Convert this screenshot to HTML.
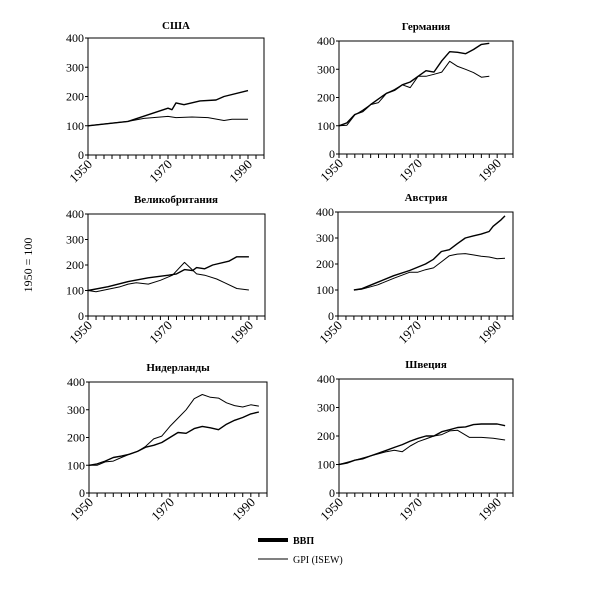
<!DOCTYPE html>
<html><head><meta charset="utf-8"><style>
body{margin:0;background:#fff}
svg{display:block}
text{font-family:"Liberation Serif",serif;font-size:12px;fill:#000}
.t{font-weight:bold;font-size:11px}
.yr{font-size:13px}
</style></head><body>
<svg id="s" width="600" height="598" viewBox="0 0 600 598" xmlns="http://www.w3.org/2000/svg">
<g id="p1" transform="translate(88,38)">
<text class="t" x="88" y="-9" text-anchor="middle">США</text>
<text x="-4" y="121" text-anchor="end">0</text><text x="-4" y="91.75" text-anchor="end">100</text><text x="-4" y="62.5" text-anchor="end">200</text><text x="-4" y="33.25" text-anchor="end">300</text><text x="-4" y="4" text-anchor="end">400</text>
<text class="yr" transform="translate(5,127) rotate(-45)" text-anchor="end">1950</text><text class="yr" transform="translate(85,127) rotate(-45)" text-anchor="end">1970</text><text class="yr" transform="translate(165,127) rotate(-45)" text-anchor="end">1990</text>
</g>
<g id="p2" transform="translate(339,41)">
<text class="t" x="87" y="-11" text-anchor="middle">Германия</text>
<text x="-4" y="117" text-anchor="end">0</text><text x="-4" y="88.75" text-anchor="end">100</text><text x="-4" y="60.5" text-anchor="end">200</text><text x="-4" y="32.25" text-anchor="end">300</text><text x="-4" y="4" text-anchor="end">400</text>
<text class="yr" transform="translate(5,123) rotate(-45)" text-anchor="end">1950</text><text class="yr" transform="translate(84,123) rotate(-45)" text-anchor="end">1970</text><text class="yr" transform="translate(163,123) rotate(-45)" text-anchor="end">1990</text>
</g>
<g id="p3" transform="translate(88,214)">
<text class="t" x="88" y="-11" text-anchor="middle">Великобритания</text>
<text x="-4" y="106" text-anchor="end">0</text><text x="-4" y="80.5" text-anchor="end">100</text><text x="-4" y="55" text-anchor="end">200</text><text x="-4" y="29.5" text-anchor="end">300</text><text x="-4" y="4" text-anchor="end">400</text>
<text class="yr" transform="translate(5,112) rotate(-45)" text-anchor="end">1950</text><text class="yr" transform="translate(85,112) rotate(-45)" text-anchor="end">1970</text><text class="yr" transform="translate(166,112) rotate(-45)" text-anchor="end">1990</text>
</g>
<g id="p4" transform="translate(338,212)">
<text class="t" x="88" y="-11" text-anchor="middle">Австрия</text>
<text x="-4" y="108" text-anchor="end">0</text><text x="-4" y="82" text-anchor="end">100</text><text x="-4" y="56" text-anchor="end">200</text><text x="-4" y="30" text-anchor="end">300</text><text x="-4" y="4" text-anchor="end">400</text>
<text class="yr" transform="translate(5,114) rotate(-45)" text-anchor="end">1950</text><text class="yr" transform="translate(84,114) rotate(-45)" text-anchor="end">1970</text><text class="yr" transform="translate(164,114) rotate(-45)" text-anchor="end">1990</text>
</g>
<g id="p5" transform="translate(89,382)">
<text class="t" x="89" y="-11" text-anchor="middle">Нидерланды</text>
<text x="-4" y="115" text-anchor="end">0</text><text x="-4" y="87.25" text-anchor="end">100</text><text x="-4" y="59.5" text-anchor="end">200</text><text x="-4" y="31.75" text-anchor="end">300</text><text x="-4" y="4" text-anchor="end">400</text>
<text class="yr" transform="translate(5,121) rotate(-45)" text-anchor="end">1950</text><text class="yr" transform="translate(86,121) rotate(-45)" text-anchor="end">1970</text><text class="yr" transform="translate(167,121) rotate(-45)" text-anchor="end">1990</text>
</g>
<g id="p6" transform="translate(339,379)">
<text class="t" x="87" y="-11" text-anchor="middle">Швеция</text>
<text x="-4" y="118" text-anchor="end">0</text><text x="-4" y="89.5" text-anchor="end">100</text><text x="-4" y="61" text-anchor="end">200</text><text x="-4" y="32.5" text-anchor="end">300</text><text x="-4" y="4" text-anchor="end">400</text>
<text class="yr" transform="translate(5,124) rotate(-45)" text-anchor="end">1950</text><text class="yr" transform="translate(84,124) rotate(-45)" text-anchor="end">1970</text><text class="yr" transform="translate(163,124) rotate(-45)" text-anchor="end">1990</text>
</g>
<text transform="translate(32,265) rotate(-90)" text-anchor="middle">1950 = 100</text>
<line x1="258" y1="540" x2="288" y2="540" stroke="#000" stroke-width="4"/>
<text class="t" x="293" y="544" style="font-size:10px">ВВП</text>
<line x1="258" y1="559" x2="288" y2="559" stroke="#000" stroke-width="1"/>
<text x="293" y="563" style="font-size:10px">GPI (ISEW)</text>
</svg>
<script>
var P={
p1:[176,117,[[50,100],[60,115],[70,160],[71,155],[72,178],[74,172],[78,185],[82,188],[84,200],[90,220]],
 [[50,100],[60,115],[64,125],[70,132],[72,128],[76,130],[80,128],[84,118],[86,122],[90,122]]],
p2:[174,113,[[50,100],[52,110],[54,140],[56,150],[58,175],[60,195],[62,215],[64,225],[66,245],[68,255],[70,275],[72,295],[74,290],[76,330],[78,362],[80,360],[82,355],[84,370],[86,388],[88,392]],
 [[50,100],[52,102],[54,138],[56,155],[58,175],[60,182],[62,215],[64,228],[66,245],[68,235],[70,275],[72,275],[74,282],[76,290],[78,328],[80,310],[82,300],[84,288],[86,272],[88,275]]],
p3:[177,102,[[50,100],[55,115],[60,135],[65,150],[70,160],[72,165],[74,182],[76,178],[77,190],[79,185],[81,200],[85,215],[87,232],[90,232]],
 [[50,100],[52,95],[55,105],[58,115],[60,125],[62,130],[65,125],[68,140],[71,160],[74,210],[77,165],[79,160],[82,145],[84,130],[87,108],[90,102]]],
p4:[175,104,[[54,100],[56,105],[60,130],[64,155],[68,175],[72,200],[74,218],[76,248],[78,255],[80,278],[82,300],[84,308],[86,315],[88,325],[89,345],[91,370],[92,385]],
 [[54,100],[56,103],[60,120],[64,145],[68,168],[70,168],[72,178],[74,185],[76,208],[78,232],[80,238],[82,240],[84,235],[86,230],[88,227],[90,220],[92,222]]],
p5:[178,111,[[50,100],[52,105],[54,115],[56,128],[58,133],[60,140],[62,150],[64,165],[66,172],[68,182],[70,200],[72,218],[74,215],[76,232],[78,240],[80,235],[82,228],[84,248],[86,262],[88,272],[90,285],[92,292]],
 [[50,100],[52,100],[54,112],[56,115],[58,128],[60,140],[62,150],[64,168],[66,195],[68,205],[70,240],[72,270],[74,300],[76,340],[78,355],[80,345],[82,342],[84,325],[86,315],[88,310],[90,318],[92,313]]],
p6:[174,114,[[50,100],[52,105],[54,115],[56,120],[58,130],[60,140],[62,150],[64,160],[66,170],[68,182],[70,192],[72,200],[74,200],[76,215],[78,222],[80,230],[82,232],[84,240],[86,242],[88,242],[90,242],[92,236]],
 [[50,100],[54,115],[58,130],[62,145],[64,150],[66,145],[68,165],[70,180],[72,190],[74,200],[76,205],[78,218],[80,220],[83,195],[86,195],[89,192],[92,186]]]
};
var NS="http://www.w3.org/2000/svg";
function el(g,n,a){var e=document.createElementNS(NS,n);for(var k in a)e.setAttribute(k,a[k]);g.appendChild(e);}
for(var id in P){var g=document.getElementById(id),W=P[id][0],H=P[id][1];
 el(g,"rect",{x:0,y:0,width:W,height:H,fill:"none",stroke:"#000","stroke-width":1});
 for(var i=0;i<=22;i++){var x=i*W/22;el(g,"line",{x1:x,y1:H,x2:x,y2:H+4,stroke:"#000","stroke-width":1});}
 for(var v=0;v<=400;v+=100){var y=H-v/400*H;el(g,"line",{x1:-3,y1:y,x2:0,y2:y,stroke:"#000","stroke-width":1});}
 [2,3].forEach(function(k){var pts=P[id][k].map(function(p){return ((p[0]-50)*W/44).toFixed(1)+","+(H-p[1]/400*H).toFixed(1)}).join(" ");
  el(g,"polyline",{points:pts,fill:"none",stroke:"#000","stroke-width":k==2?1.4:1,"stroke-linejoin":"round"});});
}
</script>
</body></html>
